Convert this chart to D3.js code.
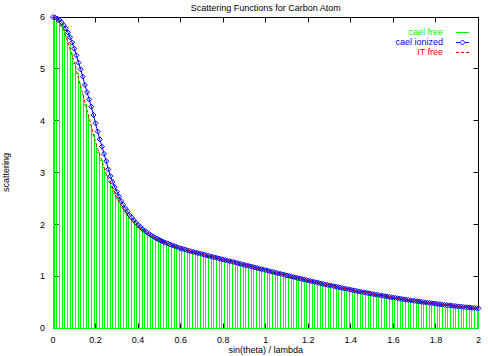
<!DOCTYPE html>
<html><head><meta charset="utf-8">
<script src="https://cdn.jsdelivr.net/npm/d3@7/dist/d3.min.js"></script>
<style>
body{margin:0;background:#fff}
text{font-family:"Liberation Sans",Arial,Helvetica,sans-serif;font-size:9px;fill:#000}
</style>
</head><body>
<svg id="chart" width="488" height="356"></svg>
<script>
const title = "Scattering Functions for Carbon Atom";
const xLabel = "sin(theta) / lambda";
const yLabel = "scattering";
const xTicks = [0, 0.2, 0.4, 0.6, 0.8, 1, 1.2, 1.4, 1.6, 1.8, 2];
const xTickLabels = ["0", "0.2", "0.4", "0.6", "0.8", "1", "1.2", "1.4", "1.6", "1.8", "2"];
const yTicks = [0, 1, 2, 3, 4, 5, 6];
const yTickLabels = ["0", "1", "2", "3", "4", "5", "6"];
const seriesNames = ["cael free", "cael ionized", "IT free"];
const seriesColors = ["#00ff00", "#0000ff", "#ff0000"];

// sin(theta)/lambda sample grids
const freeStep = 0.0125;
const sFree = d3.range(161).map(i => +(i * freeStep).toFixed(4));
const ionStep = 0.01;
const sIon = d3.range(201).map(i => +(i * ionStep).toFixed(2));

const caelFree = [
6.000,5.983,5.935,5.856,5.749,5.617,5.464,5.292,5.108,4.913,
4.714,4.512,4.310,4.113,3.921,3.736,3.560,3.392,3.235,3.087,
2.950,2.822,2.704,2.595,2.494,2.402,2.318,2.241,2.171,2.107,
2.049,1.996,1.948,1.904,1.864,1.828,1.794,1.764,1.736,1.710,
1.686,1.663,1.642,1.623,1.604,1.586,1.569,1.553,1.537,1.522,
1.507,1.493,1.479,1.465,1.451,1.438,1.425,1.412,1.399,1.386,
1.373,1.360,1.347,1.334,1.321,1.308,1.295,1.282,1.270,1.257,
1.244,1.231,1.218,1.205,1.192,1.179,1.167,1.154,1.141,1.128,
1.115,1.102,1.090,1.077,1.064,1.052,1.039,1.026,1.014,1.001,
0.989,0.977,0.964,0.952,0.940,0.928,0.916,0.904,0.892,0.881,
0.869,0.857,0.846,0.834,0.823,0.812,0.801,0.790,0.779,0.768,
0.758,0.747,0.737,0.726,0.716,0.706,0.696,0.686,0.677,0.667,
0.657,0.648,0.639,0.630,0.621,0.612,0.603,0.595,0.586,0.578,
0.569,0.561,0.553,0.545,0.538,0.530,0.523,0.515,0.508,0.501,
0.494,0.487,0.480,0.474,0.467,0.461,0.455,0.448,0.442,0.437,
0.431,0.425,0.419,0.414,0.409,0.403,0.398,0.393,0.388,0.384,
0.379];

const caelIonized = [
6.00,5.99,5.97,5.94,5.90,5.84,5.78,5.70,5.61,5.51,
5.39,5.26,5.12,4.99,4.85,4.69,4.55,4.41,4.27,4.11,
3.95,3.79,3.64,3.50,3.36,3.22,3.06,2.93,2.82,2.72,
2.63,2.54,2.45,2.38,2.31,2.25,2.18,2.13,2.08,2.03,
1.99,1.95,1.91,1.88,1.85,1.82,1.79,1.77,1.74,1.72,
1.70,1.68,1.66,1.645,1.63,1.612,1.597,1.582,1.568,1.550,
1.537,1.525,1.513,1.501,1.490,1.479,1.468,1.457,1.446,1.435,
1.425,1.415,1.404,1.394,1.383,1.373,1.363,1.352,1.342,1.331,
1.321,1.311,1.300,1.290,1.280,1.270,1.260,1.249,1.239,1.229,
1.218,1.208,1.197,1.187,1.177,1.167,1.157,1.146,1.136,1.125,
1.115,1.105,1.095,1.085,1.074,1.064,1.054,1.044,1.034,1.024,
1.014,1.004,0.994,0.984,0.974,0.964,0.954,0.945,0.935,0.926,
0.916,0.906,0.897,0.888,0.878,0.869,0.859,0.850,0.841,0.832,
0.823,0.814,0.805,0.797,0.788,0.779,0.770,0.762,0.753,0.745,
0.737,0.728,0.720,0.712,0.704,0.696,0.688,0.681,0.673,0.665,
0.657,0.650,0.643,0.635,0.628,0.621,0.614,0.607,0.600,0.593,
0.586,0.580,0.573,0.566,0.560,0.553,0.547,0.541,0.535,0.529,
0.523,0.517,0.511,0.505,0.499,0.494,0.488,0.483,0.477,0.472,
0.467,0.462,0.457,0.452,0.447,0.442,0.438,0.433,0.428,0.424,
0.419,0.415,0.411,0.406,0.402,0.398,0.394,0.390,0.386,0.382,
0.379];

const itS = [0, 0.05, 0.1, 0.15, 0.2, 0.25, 0.3, 0.35, 0.4, 0.5, 0.6, 0.7, 0.8, 0.9, 1.0, 1.1, 1.2, 1.3, 1.4, 1.5, 1.6, 1.7, 1.8, 1.9, 2.0];
const itFree = [6.000, 5.758, 5.126, 4.358, 3.581, 2.976, 2.502, 2.165, 1.950, 1.685, 1.536, 1.426, 1.322, 1.218, 1.114, 1.012, 0.914, 0.822, 0.736, 0.659, 0.588, 0.525, 0.469, 0.419, 0.376];

const svg = d3.select("#chart");
const L = 53, R = 478.5, T = 17, B = 328;
const x = d3.scaleLinear().domain([0, 2]).range([L, R]);
const y = d3.scaleLinear().domain([0, 6]).range([B, T]);
const px = v => Math.round(v - 0.5) + 0.5;   // snap to pixel centre

svg.append("rect").attr("width", 488).attr("height", 356).attr("fill", "#fff");

// border
svg.append("rect").attr("x", px(L)).attr("y", px(T)).attr("width", px(R) - px(L)).attr("height", px(B) - px(T))
  .attr("fill", "none").attr("stroke", "#000");

// ticks (inward, mirrored)
const tk = 5;
const gAx = svg.append("g").attr("stroke", "#000");
xTicks.forEach(v => {
  gAx.append("line").attr("x1", px(x(v))).attr("x2", px(x(v))).attr("y1", px(B)).attr("y2", px(B) - tk);
  gAx.append("line").attr("x1", px(x(v))).attr("x2", px(x(v))).attr("y1", px(T)).attr("y2", px(T) + tk);
});
yTicks.forEach(v => {
  gAx.append("line").attr("x1", px(L)).attr("x2", px(L) + tk).attr("y1", px(y(v))).attr("y2", px(y(v)));
  gAx.append("line").attr("x1", px(R)).attr("x2", px(R) - tk).attr("y1", px(y(v))).attr("y2", px(y(v)));
});

// tick labels
svg.append("g").selectAll("text").data(xTicks).join("text")
  .attr("x", d => x(d)).attr("y", 343).attr("text-anchor", "middle")
  .text((d, i) => xTickLabels[i]);
svg.append("g").selectAll("text").data(yTicks).join("text")
  .attr("x", 45).attr("y", d => y(d) + 3.3).attr("text-anchor", "end")
  .text((d, i) => yTickLabels[i]);

// titles
svg.append("text").attr("x", (L + R) / 2).attr("y", 11).attr("text-anchor", "middle").text(title);
svg.append("text").attr("x", (L + R) / 2).attr("y", 353).attr("text-anchor", "middle").text(xLabel);
svg.append("text").attr("transform", `translate(9,${(T + B) / 2}) rotate(-90)`)
  .attr("text-anchor", "middle").text(yLabel);

// cael free: outlined boxes (adjacent, sharing edges), drawn as one pixel-snapped path
let d = "";
const y0 = px(y(0));
sFree.forEach((s, i) => {
  const xa = px(x(Math.max(0, s - freeStep / 2)));
  const xb = px(x(Math.min(2, s + freeStep / 2)));
  const yt = px(y(caelFree[i]));
  d += `M${xa},${y0}V${yt}H${xb}V${y0}`;
});
d += `M${px(x(0))},${y0}H${px(x(2))}`;
svg.append("path").attr("d", d).attr("fill", "none").attr("stroke", seriesColors[0]);

// cael ionized: line + diamonds
const line = d3.line().x(d => x(d[0])).y(d => y(d[1]));
const ionPts = sIon.map((s, i) => [s, caelIonized[i]]);
svg.append("path").datum(ionPts).attr("d", line).attr("fill", "none").attr("stroke", seriesColors[1]);
const dm = 2.5;
const diamond = (cx, cy) => `M${cx},${cy - dm}L${cx + dm},${cy}L${cx},${cy + dm}L${cx - dm},${cy}Z`;
svg.append("g").selectAll("path").data(ionPts).join("path")
  .attr("d", d => diamond(x(d[0]), y(d[1]))).attr("fill", "none").attr("stroke", seriesColors[1]);

// IT free: dashed
const itPts = itS.map((s, i) => [s, itFree[i]]);
svg.append("path").datum(itPts).attr("d", line).attr("fill", "none")
  .attr("stroke", seriesColors[2]).attr("stroke-dasharray", "3,2");

// legend
const legY = [32, 42, 52];
seriesNames.forEach((n, i) => {
  svg.append("text").attr("x", 443).attr("y", legY[i] + 3.3).attr("text-anchor", "end")
    .style("fill", seriesColors[i]).text(n);
  const ln = svg.append("line").attr("x1", 456).attr("x2", 469).attr("y1", legY[i] + 0.5).attr("y2", legY[i] + 0.5)
    .attr("stroke", seriesColors[i]);
  if (i === 2) ln.attr("stroke-dasharray", "3,2");
  if (i === 1) svg.append("path").attr("d", diamond(462.5, legY[i] + 0.5)).attr("fill", "#fff").attr("stroke", seriesColors[i]);
});
</script>
</body></html>
